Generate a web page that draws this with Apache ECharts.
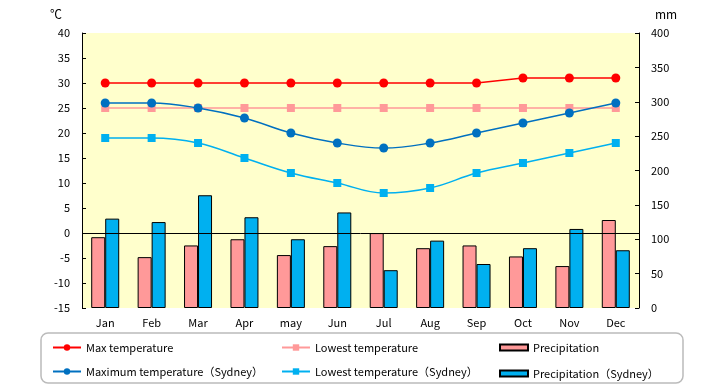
<!DOCTYPE html>
<html><head><meta charset="utf-8">
<script src="https://cdn.jsdelivr.net/npm/echarts@6/dist/echarts.min.js"></script>
<style>html,body{margin:0;padding:0;background:#fff}#c{width:720px;height:385px}</style>
</head><body><div id="c"></div>
<script>
const months = ['Jan','Feb','Mar','Apr','may','Jun','Jul','Aug','Sep','Oct','Nov','Dec'];
const maxTemp = [30,30,30,30,30,30,30,30,30,31,31,31];
const lowTemp = [25,25,25,25,25,25,25,25,25,25,25,25];
const precip = [103,74,91,100,77,90,109,87,91,75,61,128];
const maxTempSyd = [26,26,25,23,20,18,17,18,20,22,24,26];
const lowTempSyd = [19,19,18,15,12,10,8,9,12,14,16,18];
const precipSyd = [130,125,164,132,100,139,55,98,64,87,115,84];
const names = ['Max temperature','Lowest temperature','Precipitation',
  'Maximum temperature（Sydney）','Lowest temperature（Sydney）','Precipitation（Sydney）'];

const font = 'Noto Sans CJK JP';
const chart = echarts.init(document.getElementById('c'));
const txt = {fontFamily: font, fontSize: 11, color: '#000'};
function leg(left, data){
  return {left: left, top: 337, orient: 'vertical', itemGap: 13, itemWidth: 28, itemHeight: 8,
    textStyle: Object.assign({}, txt, {fontSize: 11}), data: data, selectedMode: false};
}
chart.setOption({
  animation: false,
  textStyle: {fontFamily: font},
  grid: {left: 82, right: 81, top: 33, bottom: 77, show: true, backgroundColor: '#FFFFCC', borderWidth: 0},
  legend: [leg(47, [names[0], names[3]]), leg(276, [names[1], names[4]]),
    {left: 494, top: 337, orient: 'vertical', itemGap: 15, itemWidth: 28, itemHeight: 6,
      textStyle: txt, selectedMode: false,
      data: [{name: names[2], icon: 'rect'}, {name: names[5], icon: 'rect'}]}],
  graphic: [
    {type: 'rect', shape: {x: 41, y: 333, width: 642, height: 50, r: 7}, style: {fill: 'none', stroke: '#bbb', lineWidth: 1.5}},
    {type: 'text', left: 50, top: 8, style: {text: '℃', font: '12px "Noto Sans CJK JP"', fill: '#000'}},
    {type: 'text', left: 655, top: 8, style: {text: 'mm', font: '12px "Noto Sans CJK JP"', fill: '#000'}}
  ],
  xAxis: {type: 'category', data: months, axisLine: {show: false}, axisTick: {show: false},
    axisLabel: Object.assign({margin: 9}, txt)},
  yAxis: [
    {type: 'value', min: -15, max: 40, interval: 5, splitLine: {show: false},
      axisLine: {show: true, lineStyle: {color: '#000'}}, axisTick: {show: true, inside: true, length: 4, lineStyle: {color: '#000'}},
      axisLabel: Object.assign({margin: 12}, txt)},
    {type: 'value', min: 0, max: 400, interval: 50, splitLine: {show: false},
      axisLine: {show: true, lineStyle: {color: '#000'}}, axisTick: {show: true, inside: true, length: 4, lineStyle: {color: '#000'}},
      axisLabel: Object.assign({margin: 12}, txt)}
  ],
  series: [
    {name: names[2], type: 'bar', yAxisIndex: 1, data: precip, barWidth: 14, barGap: '0%',
      itemStyle: {color: '#FF9999', borderColor: '#000', borderWidth: 1}},
    {name: names[5], type: 'bar', yAxisIndex: 1, data: precipSyd, barWidth: 14, barGap: '0%',
      itemStyle: {color: '#00B0F0', borderColor: '#000', borderWidth: 1}},
    {name: names[1], type: 'line', data: lowTemp, symbol: 'rect', symbolSize: 8,
      itemStyle: {color: '#FF9999'}, lineStyle: {color: '#FF9999', width: 1.5},
      markLine: {silent: true, symbol: 'none', label: {show: false}, lineStyle: {color: '#000', type: 'solid', width: 1},
        data: [{yAxis: 0}]}},
    {name: names[0], type: 'line', data: maxTemp, symbol: 'circle', symbolSize: 9,
      itemStyle: {color: '#FF0000'}, lineStyle: {color: '#FF0000', width: 1.5}},
    {name: names[4], type: 'line', data: lowTempSyd, symbol: 'rect', symbolSize: 8, smooth: 0.4,
      itemStyle: {color: '#00B0F0'}, lineStyle: {color: '#00B0F0', width: 1.5}},
    {name: names[3], type: 'line', data: maxTempSyd, symbol: 'circle', symbolSize: 9, smooth: 0.4,
      itemStyle: {color: '#0070C0'}, lineStyle: {color: '#0070C0', width: 1.5}}
  ]
});
</script></body></html>
